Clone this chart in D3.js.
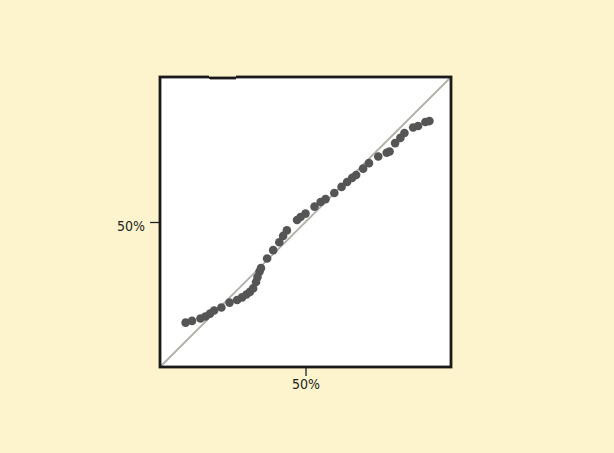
<!DOCTYPE html>
<html>
<head>
<meta charset="utf-8">
<script src="https://cdn.jsdelivr.net/npm/d3@7"></script>
<style>
  html, body { margin: 0; padding: 0; background: #fdf4cd; }
  svg { display: block; }
  .tick-label { font-family: "DejaVu Sans Condensed", "DejaVu Sans", sans-serif; font-size: 14px; font-weight: 300; fill: #222; }
</style>
</head>
<body>
<div id="chart"></div>
<script>
// P-P plot: theoretical cumulative probability vs empirical
const theoretical = [0.088, 0.110, 0.139, 0.156, 0.172, 0.186, 0.211, 0.239, 0.265, 0.282,
  0.297, 0.309, 0.320, 0.330, 0.335, 0.342, 0.347, 0.368, 0.389, 0.410,
  0.423, 0.436, 0.471, 0.483, 0.500, 0.531, 0.552, 0.569, 0.599, 0.624,
  0.643, 0.660, 0.674, 0.698, 0.718, 0.750, 0.779, 0.789, 0.808, 0.826,
  0.840, 0.870, 0.887, 0.912, 0.926];
const empirical = [0.153, 0.159, 0.167, 0.174, 0.184, 0.195, 0.205, 0.222, 0.231, 0.240,
  0.250, 0.259, 0.271, 0.293, 0.310, 0.329, 0.341, 0.374, 0.403, 0.430,
  0.452, 0.471, 0.507, 0.517, 0.529, 0.553, 0.569, 0.579, 0.600, 0.621,
  0.638, 0.652, 0.662, 0.684, 0.703, 0.726, 0.739, 0.743, 0.772, 0.790,
  0.807, 0.826, 0.831, 0.845, 0.848];
const tickValues = [0.5];
const tickLabels = ['50%'];

const width = 614;
const height = 453;
const margin = {top: 77, right: 163, bottom: 86, left: 160};

const svg = d3.select('#chart')
  .append('svg')
  .attr('width', width)
  .attr('height', height);

// hand-drawn wobble, region in page units so thin lines keep their area
const defs = svg.append('defs');
const wobble = defs.append('filter')
  .attr('id', 'wobble')
  .attr('filterUnits', 'userSpaceOnUse')
  .attr('color-interpolation-filters', 'sRGB')
  .attr('x', 0).attr('y', 0)
  .attr('width', width).attr('height', height);
wobble.append('feTurbulence')
  .attr('type', 'fractalNoise')
  .attr('baseFrequency', 0.02)
  .attr('numOctaves', 1)
  .attr('seed', 3)
  .attr('result', 'noise');
wobble.append('feDisplacementMap')
  .attr('in', 'SourceGraphic')
  .attr('in2', 'noise')
  .attr('scale', 2)
  .attr('xChannelSelector', 'R')
  .attr('yChannelSelector', 'G');

const x = d3.scaleLinear().domain([0, 1]).range([margin.left, width - margin.right]);
const y = d3.scaleLinear().domain([0, 1]).range([height - margin.bottom, margin.top]);

// white plot area
svg.append('rect')
  .attr('x', x(0))
  .attr('y', y(1))
  .attr('width', x(1) - x(0))
  .attr('height', y(0) - y(1))
  .attr('fill', '#ffffff');

// reference diagonal
svg.append('line')
  .attr('x1', x(0)).attr('y1', y(0))
  .attr('x2', x(1)).attr('y2', y(1))
  .attr('stroke', '#b3aea8')
  .attr('stroke-width', 1.8)
  .attr('filter', 'url(#wobble)');

// points
svg.append('g')
  .selectAll('circle')
  .data(theoretical.map((t, i) => [t, empirical[i]]))
  .enter()
  .append('circle')
  .attr('cx', d => x(d[0]))
  .attr('cy', d => y(d[1]))
  .attr('r', 4.3)
  .attr('fill', '#555555');

// axes
const xAxis = d3.axisBottom(x).tickValues(tickValues).tickFormat((d, i) => tickLabels[i]).tickSize(9).tickPadding(3);
const yAxis = d3.axisLeft(y).tickValues(tickValues).tickFormat((d, i) => tickLabels[i]).tickSize(10).tickPadding(5);

const gx = svg.append('g')
  .attr('transform', `translate(0, ${y(0)})`)
  .call(xAxis);
const gy = svg.append('g')
  .attr('transform', `translate(${x(0)}, 0)`)
  .call(yAxis);

[gx, gy].forEach(g => {
  g.select('.domain').remove();
  g.selectAll('.tick line').attr('stroke', '#222').attr('stroke-width', 1.3);
  g.selectAll('.tick text').attr('class', 'tick-label').attr('fill', null);
});
gy.selectAll('.tick text').attr('dy', '0.6em');

// sketchy frame
svg.append('rect')
  .attr('x', x(0))
  .attr('y', y(1))
  .attr('width', x(1) - x(0))
  .attr('height', y(0) - y(1))
  .attr('fill', 'none')
  .attr('stroke', '#1a1a1a')
  .attr('stroke-width', 2.8)
  .attr('filter', 'url(#wobble)');
</script>
</body>
</html>
